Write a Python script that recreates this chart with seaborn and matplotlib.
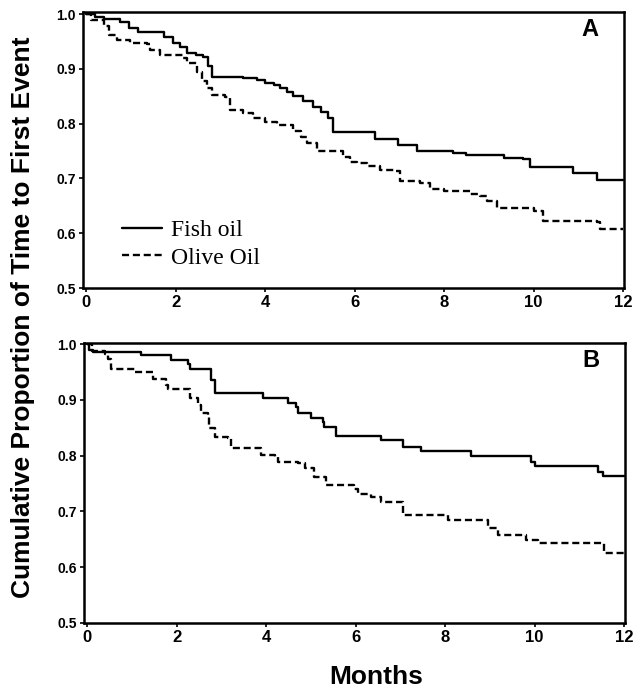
import matplotlib
matplotlib.use("Agg")
import matplotlib.pyplot as plt
import seaborn as sns
import pandas as pd

# ---------------- data ----------------
months_ticks = [0, 2, 4, 6, 8, 10, 12]
y_ticks = [0.5, 0.6, 0.7, 0.8, 0.9, 1.0]

fish_a_t = [0, 0.2, 0.39, 0.76, 0.95, 1.16, 1.75, 1.95, 2.1, 2.25, 2.45, 2.62, 2.72, 2.81,
            3.51, 3.81, 4.0, 4.2, 4.34, 4.5, 4.63, 4.85, 5.07, 5.25, 5.41, 5.52,
            6.46, 6.98, 7.4, 8.2, 8.5, 9.33, 9.77, 9.92, 10.89, 11.41, 12.0]
fish_a_s = [1.0, 0.995, 0.991, 0.985, 0.975, 0.967, 0.958, 0.948, 0.94, 0.929, 0.925, 0.922, 0.905, 0.886,
            0.883, 0.879, 0.875, 0.871, 0.866, 0.858, 0.85, 0.842, 0.831, 0.822, 0.81, 0.785,
            0.772, 0.762, 0.75, 0.747, 0.742, 0.738, 0.735, 0.721, 0.71, 0.698, 0.698]

olive_a_t = [0, 0.1, 0.39, 0.5, 0.69, 0.98, 1.36, 1.43, 1.65, 2.17, 2.25, 2.47, 2.6, 2.7, 2.81,
             3.11, 3.22, 3.51, 3.74, 4.0, 4.26, 4.63, 4.8, 4.93, 5.15, 5.75, 5.9, 6.05, 6.27,
             6.57, 6.87, 7.02, 7.46, 7.69, 7.99, 8.58, 8.8, 8.95, 9.18, 10.0, 10.22, 11.41,
             11.49, 12.0]
olive_a_s = [1.0, 0.99, 0.978, 0.962, 0.953, 0.948, 0.945, 0.935, 0.925, 0.92, 0.91, 0.895, 0.878, 0.865, 0.853,
             0.848, 0.825, 0.82, 0.81, 0.804, 0.798, 0.786, 0.775, 0.765, 0.75, 0.74, 0.731, 0.728, 0.722,
             0.716, 0.713, 0.695, 0.692, 0.68, 0.677, 0.672, 0.668, 0.659, 0.647, 0.64, 0.622, 0.62,
             0.607, 0.607]

fish_b_t = [0, 0.05, 0.13, 1.2, 1.88, 2.25, 2.29, 2.77, 2.85, 3.92, 4.48, 4.67, 4.71, 5.0,
            5.27, 5.3, 5.56, 6.57, 7.05, 7.46, 8.58, 9.92, 10.0, 11.41, 11.52, 12.0]
fish_b_s = [1.0, 0.99, 0.986, 0.98, 0.972, 0.965, 0.956, 0.935, 0.912, 0.904, 0.895, 0.888, 0.876, 0.867,
            0.861, 0.851, 0.835, 0.828, 0.816, 0.808, 0.8, 0.789, 0.782, 0.771, 0.763, 0.763]

olive_b_t = [0, 0.1, 0.39, 0.46, 0.54, 1.06, 1.47, 1.77, 1.8, 2.29, 2.47, 2.55, 2.7, 2.73, 2.85,
             3.14, 3.22, 3.89, 4.19, 4.26, 4.71, 4.86, 5.08, 5.34, 5.97, 6.05, 6.35, 6.57,
             7.05, 8.06, 8.95, 9.18, 9.81, 10.07, 11.56, 12.0]
olive_b_s = [1.0, 0.988, 0.983, 0.974, 0.956, 0.95, 0.938, 0.927, 0.919, 0.903, 0.891, 0.876, 0.87, 0.849, 0.834,
             0.831, 0.813, 0.801, 0.798, 0.789, 0.786, 0.777, 0.762, 0.747, 0.741, 0.732, 0.726, 0.717,
             0.694, 0.685, 0.67, 0.658, 0.649, 0.643, 0.625, 0.625]

series_labels = ["Fish oil", "Olive Oil"]
panel_labels = ["A", "B"]

# ---------------- style ----------------
sns.set_style("ticks")
plt.rcParams["font.family"] = ["Liberation Sans", "DejaVu Sans"]
plt.rcParams["text.color"] = "black"
plt.rcParams["axes.labelcolor"] = "black"
plt.rcParams["xtick.color"] = "black"
plt.rcParams["ytick.color"] = "black"

fig = plt.figure(figsize=(6.42, 6.9), dpi=100)
ax_a = fig.add_axes([83 / 642, (690 - 288) / 690, 541 / 642, 276 / 690])
ax_b = fig.add_axes([84 / 642, (690 - 623) / 690, 541 / 642, 280 / 690])

panels = [
    (ax_a, fish_a_t, fish_a_s, olive_a_t, olive_a_s, 1.004),
    (ax_b, fish_b_t, fish_b_s, olive_b_t, olive_b_s, 1.002),
]

DASH = (0, (3.0, 1.6))

for i, (ax, ft, fs, ot, os_, ytop) in enumerate(panels):
    df_f = pd.DataFrame({"t": ft, "s": fs})
    df_o = pd.DataFrame({"t": ot, "s": os_})
    sns.lineplot(data=df_f, x="t", y="s", ax=ax, color="black", lw=1.7,
                 drawstyle="steps-post", estimator=None, sort=False,
                 label=series_labels[0] if i == 0 else None)
    sns.lineplot(data=df_o, x="t", y="s", ax=ax, color="black", lw=1.7,
                 drawstyle="steps-post", estimator=None, sort=False,
                 label=series_labels[1] if i == 0 else None)
    ax.lines[1].set_linestyle(DASH)
    ax.set_xlim(-0.07, 12.02)
    ax.set_ylim(0.5, ytop)
    ax.set_xticks(months_ticks)
    ax.set_yticks(y_ticks)
    ax.set_xticklabels([str(m) for m in months_ticks], fontsize=12, fontweight="bold", color="black")
    ax.set_yticklabels([f"{v:.1f}" for v in y_ticks], fontsize=10, fontweight="bold", color="black")
    ax.tick_params(direction="out", length=3, width=1.2, pad=2, colors="black")
    ax.set_xlabel("")
    ax.set_ylabel("")
    for sp in ax.spines.values():
        sp.set_visible(True)
        sp.set_linewidth(1.8)
        sp.set_color("black")
    ax.text(0.937, 0.938, panel_labels[i], transform=ax.transAxes, ha="center", va="center",
            fontsize=17, fontweight="bold", color="black")

leg = ax_a.legend(loc="upper left", bbox_to_anchor=(0.055, 0.282), frameon=False,
                  prop={"family": "Liberation Serif", "size": 17},
                  handlelength=1.7, handletextpad=0.35, labelspacing=0.25, borderaxespad=0)
for h in leg.get_lines():
    h.set_linewidth(1.7)
leg.get_lines()[1].set_linestyle(DASH)
for t in leg.get_texts():
    t.set_color("black")

fig.text(0.036, 0.54, "Cumulative Proportion of Time to First Event", rotation=90,
         ha="center", va="center", fontsize=19, fontweight="bold", color="black")
fig.text(0.586, 0.008, "Months", ha="center", va="baseline", fontsize=19, fontweight="bold",
         color="black")

fig.savefig("out.png", dpi=100)
